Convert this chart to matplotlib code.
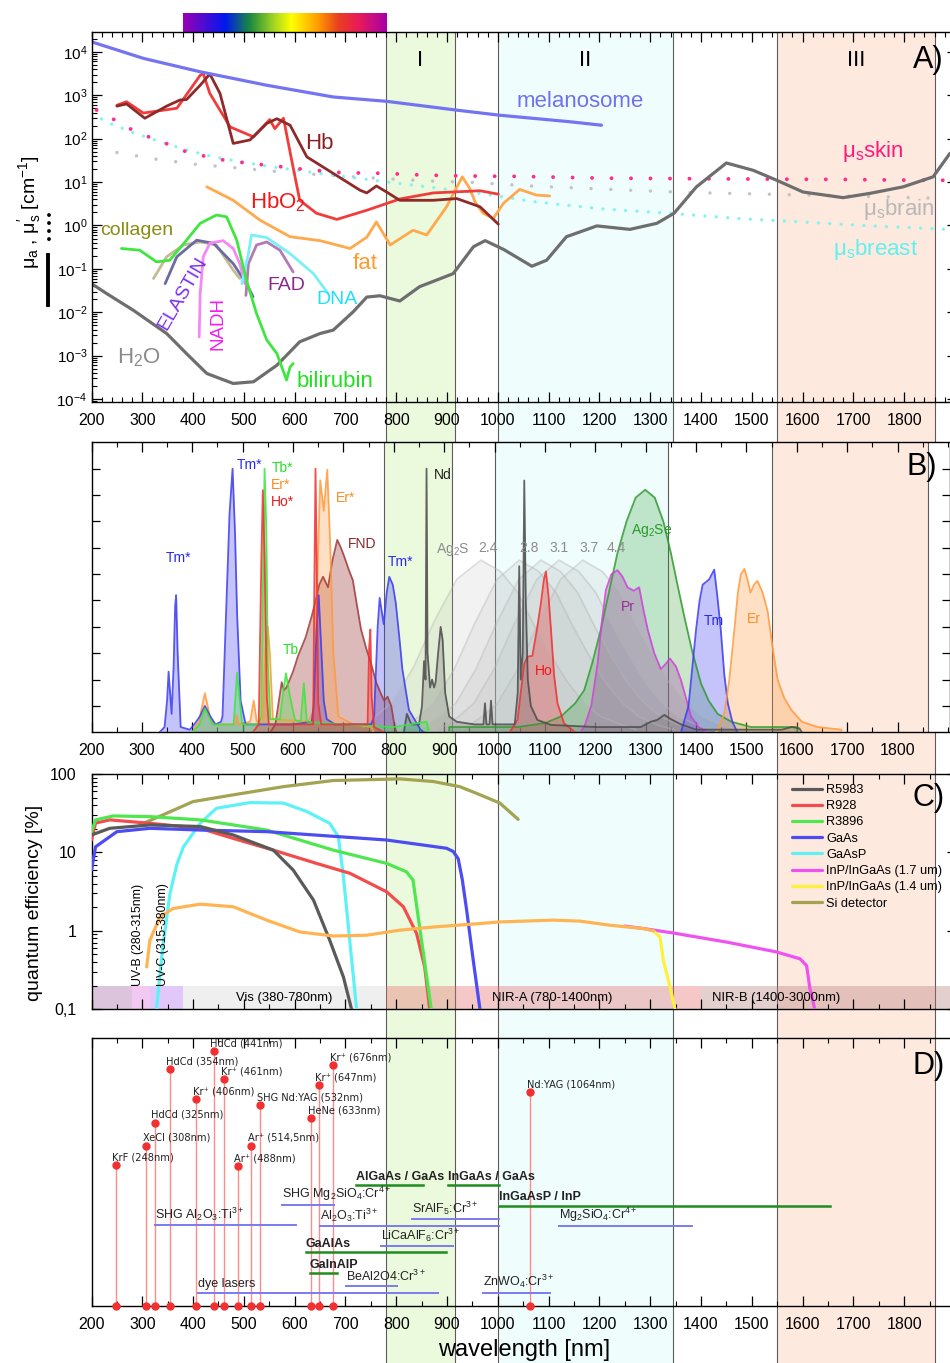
import numpy as np
import matplotlib
matplotlib.use("Agg")
import matplotlib.pyplot as plt
from matplotlib.colors import LinearSegmentedColormap
from matplotlib.lines import Line2D
from matplotlib.ticker import MultipleLocator, FixedLocator, LogLocator, NullFormatter

plt.rcParams['font.family'] = ['Liberation Sans', 'DejaVu Sans']
plt.rcParams['mathtext.fontset'] = 'custom'
plt.rcParams['mathtext.rm'] = 'Liberation Sans'
plt.rcParams['mathtext.it'] = 'Liberation Sans:italic'
plt.rcParams['mathtext.bf'] = 'Liberation Sans:bold'
plt.rcParams['axes.linewidth'] = 1.0

# ---------------- optical windows ----------------
windows = [(780, 915), (1000, 1345), (1550, 1860)]
window_names = ['I', 'II', 'III']

# visible rainbow (nm)
rainbow_nodes = [380, 462, 511, 560, 593, 646, 685, 725, 780]
rainbow_cols = ['#9a00b4', '#0018f0', '#1a8a40', '#a8d820', '#ffff00',
                '#ff9a00', '#e84020', '#e81a5a', '#a800a8']

# ---------------- A) absorption / scattering [cm^-1] ----------------
melanosome = [(200, 17000), (302, 7080), (414, 3470), (545, 1700), (676, 912), (781, 724),
              (917, 457), (1003, 347), (1142, 245), (1204, 204)]
hb = [(250, 562), (269, 631), (305, 295), (348, 562), (374, 776), (387, 794), (414, 1700),
      (433, 3090), (453, 1100), (479, 77.6), (512, 93.3), (545, 224), (565, 288), (591, 204),
      (624, 38), (676, 15.8), (729, 6.46), (742, 5.62), (761, 8.13), (781, 5.89), (807, 3.8),
      (873, 3.8), (919, 4.17), (965, 2.69), (1001, 1.07)]
hbo2 = [(250, 589), (269, 708), (302, 389), (368, 501), (414, 2880), (420, 3160), (433, 1100),
        (473, 186), (519, 110), (551, 275), (561, 170), (578, 295), (594, 32.4), (610, 3.8),
        (643, 1.91), (683, 1.38), (742, 2.24), (807, 4.07), (873, 5.62), (965, 6.31), (1001, 5.25)]
fat = [(427, 7.76), (479, 3.8), (532, 1.32), (591, 0.55), (650, 0.447), (709, 0.295), (742, 0.537),
       (761, 1.2), (788, 0.355), (833, 0.776), (860, 0.603), (899, 2.69), (930, 13.2), (945, 7.0),
       (955, 3.5), (971, 1.91), (991, 1.45), (1011, 3.24), (1043, 6.76), (1076, 5.01), (1102, 4.79)]
water = [(200, 0.0457), (230, 0.0269), (282, 0.0112), (348, 0.00324), (387, 0.00112),
         (427, 0.000389), (479, 0.000229), (519, 0.000251), (565, 0.000603), (610, 0.00209),
         (650, 0.00324), (676, 0.00389), (715, 0.0102), (742, 0.0224), (768, 0.024), (807, 0.0182),
         (846, 0.0389), (912, 0.0776), (952, 0.324), (975, 0.447), (1011, 0.282), (1067, 0.115),
         (1096, 0.158), (1135, 0.55), (1195, 0.977), (1260, 0.813), (1313, 1.12), (1347, 1.91),
         (1391, 7.76), (1450, 27.5), (1503, 18.6), (1549, 11.0), (1601, 5.89), (1680, 4.37),
         (1733, 5.5), (1798, 7.76), (1857, 13.2), (1890, 45.7)]
collagen = [(322, 0.060), (348, 0.19), (381, 0.355), (414, 0.417), (446, 0.355), (479, 0.093), (492, 0.060)]
elastin = [(345, 0.0457), (368, 0.19), (407, 0.457), (440, 0.389), (479, 0.132), (505, 0.0457), (518, 0.0229)]
nadh = [(412, 0.0027), (414, 0.027), (420, 0.19), (433, 0.389), (459, 0.447), (479, 0.295),
        (492, 0.132), (502, 0.0457)]
fad = [(504, 0.0245), (509, 0.132), (525, 0.355), (545, 0.417), (571, 0.269), (597, 0.085)]
dna = [(496, 0.0457), (509, 0.224), (515, 0.603), (545, 0.525), (591, 0.224), (637, 0.0776), (666, 0.0269)]
bilirubin = [(259, 0.295), (295, 0.269), (328, 0.145), (354, 0.158), (387, 0.457), (414, 1.12),
             (446, 1.74), (466, 1.58), (486, 0.457), (505, 0.055), (525, 0.0093), (545, 0.0023),
             (565, 0.00112), (584, 0.000275), (591, 0.00055), (597, 0.00066)]
mus_skin = [(210, 457), (246, 269), (279, 162), (315, 107), (351, 74.1), (381, 52.5), (414, 41.7),
            (453, 33.1), (505, 27.5), (545, 24.5), (584, 21.9), (620, 19.5), (660, 17.8), (699, 16.2),
            (738, 16.2), (779, 15.8), (853, 14.5), (932, 13.8), (1047, 13.5), (1204, 12.3),
            (1362, 12.0), (1516, 11.7), (1674, 11.5), (1828, 11.0), (1900, 11.0)]
mus_brain = [(250, 47.9), (325, 33.9), (404, 25.7), (482, 21.4), (558, 17.8), (637, 15.1), (715, 13.2),
             (794, 11.7), (873, 10.5), (952, 9.77), (1063, 8.13), (1221, 6.76), (1375, 5.75),
             (1532, 5.25), (1687, 4.79), (1884, 4.17)]
mus_breast = [(200, 380), (236, 224), (282, 138), (335, 85), (387, 55), (440, 38), (492, 29.5),
              (545, 23.4), (650, 15.8), (755, 11.0), (860, 7.76), (965, 5.5), (1076, 3.47),
              (1207, 2.40), (1339, 1.91), (1470, 1.45), (1602, 1.20), (1732, 0.98), (1890, 0.81)]

# ---------------- B) emission spectra (normalised) ----------------
tm_vis = [(335, 0), (345, 0.02), (350, 0.12), (353, 0.23), (356, 0.15), (359, 0.07), (363, 0.25),
          (366, 0.48), (368, 0.52), (371, 0.30), (377, 0.02), (395, 0.01), (404, 0.03), (415, 0.06),
          (425, 0.10), (436, 0.06), (446, 0.03), (457, 0.04), (460, 0.06), (466, 0.39), (474, 0.83),
          (480, 1.0), (485, 0.75), (489, 0.45), (496, 0.12), (506, 0.03), (600, 0.03), (637, 0.04),
          (641, 0.10), (647, 0.40), (651, 0.52), (656, 0.32), (661, 0.12), (667, 0.05), (683, 0.03),
          (755, 0.03), (761, 0.06), (768, 0.40), (772, 0.51), (780, 0.41), (786, 0.53), (791, 0.59),
          (798, 0.56), (804, 0.49), (811, 0.36), (817, 0.24), (830, 0.085), (853, 0.01), (860, 0)]
tb_vis = [(400, 0), (415, 0.03), (425, 0.09), (440, 0.03), (482, 0.03), (489, 0.226), (494, 0.13),
          (499, 0.03), (530, 0.03), (537, 0.06), (540, 0.51), (543.5, 1.0), (547, 0.77), (550, 0.26),
          (555, 0.05), (574, 0.05), (581, 0.16), (586, 0.224), (594, 0.135), (604, 0.047), (615, 0.04),
          (621.5, 0.186), (627.5, 0.04), (700, 0.03), (800, 0.02), (865, 0.04), (870, 0)]
er_vis = [(400, 0), (413, 0.04), (425, 0.148), (435, 0.06), (445, 0.03), (485, 0.03), (488, 0.066),
          (492, 0.03), (515, 0.04), (522, 0.12), (528, 0.04), (540, 0.05), (545, 0.3), (550, 0.40),
          (554, 0.3), (560, 0.05), (630, 0.04), (640, 0.08), (647, 0.5), (654, 0.956), (661, 0.84),
          (668, 0.996), (674, 0.7), (680, 0.3), (690, 0.06), (720, 0.03), (755, 0.02), (760, 0)]
ho_vis = [(520, 0), (532, 0.03), (535, 0.4), (537, 0.64), (540, 0.918), (543.6, 0.665), (548, 0.135),
          (552, 0.03), (640, 0.03), (642, 0.5), (644.6, 1.0), (647, 0.64), (650, 0.11), (656, 0.03),
          (748, 0.03), (751, 0.32), (753.5, 0.39), (756, 0.135), (761, 0.02), (780, 0)]
fnd = [(555, 0), (565, 0.03), (572, 0.12), (577.5, 0.19), (582, 0.16), (587, 0.17), (600, 0.23),
       (610, 0.29), (625, 0.36), (637, 0.44), (645, 0.50), (652, 0.56), (659.6, 0.59), (669.5, 0.55),
       (678, 0.65), (687.8, 0.73), (695, 0.70), (702, 0.665), (710, 0.62), (718.7, 0.577), (727, 0.48),
       (735, 0.39), (745, 0.32), (755, 0.26), (765, 0.19), (774, 0.148), (781, 0.12), (787.6, 0.135),
       (795, 0.10), (800.7, 0.034), (805, 0)]
nd = [(820, 0), (826, 0.07), (835, 0.03), (850, 0.03), (856, 0.10), (860, 0.27), (863, 0.20),
      (865, 1.0), (867, 0.30), (872, 0.17), (876, 0.20), (880, 0.17), (883, 0.19), (888, 0.30),
      (893, 0.40), (897, 0.35), (902, 0.15), (910, 0.06), (925, 0.04), (960, 0.03), (978, 0.03),
      (981, 0.11), (984, 0.03), (990, 0.03), (993, 0.12), (996, 0.03), (1040, 0.03), (1046, 0.15),
      (1049, 0.63), (1052, 0.2), (1056, 0.3), (1059, 0.955), (1062, 0.5), (1066, 0.2), (1072, 0.1),
      (1085, 0.047), (1112, 0.028), (1200, 0.02), (1290, 0.02), (1310, 0.04), (1323, 0.047),
      (1337, 0.066), (1350, 0.05), (1370, 0.03), (1400, 0.01), (1570, 0.01), (1590, 0.02),
      (1605, 0.015), (1610, 0)]
ag2s_24 = [(740, 0.02), (770, 0.07), (800, 0.12), (840, 0.25), (880, 0.42), (925, 0.58), (973, 0.653),
           (1012, 0.61), (1046, 0.53), (1080, 0.40), (1112, 0.29), (1145, 0.19), (1178, 0.11),
           (1210, 0.06), (1244, 0.034), (1280, 0.01)]
ag2s_28 = [(810, 0.01), (850, 0.06), (880, 0.11), (920, 0.24), (960, 0.41), (1005, 0.58), (1049, 0.653),
           (1088, 0.61), (1122, 0.53), (1156, 0.40), (1188, 0.29), (1220, 0.19), (1254, 0.11),
           (1286, 0.06), (1320, 0.03), (1356, 0.01)]
ag2s_31 = [(853, 0.01), (893, 0.06), (923, 0.11), (963, 0.24), (1003, 0.41), (1048, 0.58), (1092, 0.653),
           (1131, 0.61), (1165, 0.53), (1199, 0.40), (1231, 0.29), (1263, 0.19), (1297, 0.11),
           (1329, 0.06), (1363, 0.03), (1399, 0.01)]
ag2s_37 = [(889, 0.01), (929, 0.06), (959, 0.11), (999, 0.24), (1039, 0.41), (1084, 0.58), (1128, 0.653),
           (1167, 0.61), (1201, 0.53), (1235, 0.40), (1267, 0.29), (1299, 0.19), (1333, 0.11),
           (1365, 0.06), (1399, 0.03), (1435, 0.01)]
ag2s_44 = [(936, 0.01), (976, 0.06), (1006, 0.11), (1046, 0.24), (1086, 0.41), (1131, 0.58), (1175, 0.653),
           (1214, 0.61), (1248, 0.53), (1282, 0.40), (1314, 0.29), (1346, 0.19), (1380, 0.11),
           (1412, 0.06), (1446, 0.03), (1482, 0.01)]
ho_nir = [(1030, 0), (1045.6, 0.047), (1052, 0.15), (1059, 0.26), (1065.5, 0.287), (1075, 0.29),
          (1085, 0.40), (1092, 0.49), (1098, 0.58), (1102, 0.61), (1107, 0.52), (1112, 0.39),
          (1118, 0.22), (1125, 0.11), (1138, 0.034), (1160, 0)]
ag2se = [(910, 0), (910, 0.02), (1000, 0.02), (1046, 0.02), (1100, 0.035), (1132, 0.06), (1160, 0.11),
         (1178, 0.16), (1195, 0.27), (1211, 0.39), (1228, 0.54), (1244, 0.68), (1262, 0.80), (1280, 0.89),
         (1299, 0.92), (1318, 0.89), (1335, 0.80), (1350, 0.68), (1363, 0.56), (1376.5, 0.44),
         (1392, 0.31), (1409.6, 0.186), (1425, 0.12), (1442.7, 0.07), (1470, 0.04), (1509, 0.02),
         (1601, 0.02), (1601, 0)]
pr = [(1170, 0), (1178, 0.02), (1192, 0.1), (1204.5, 0.26), (1213, 0.42), (1221, 0.54), (1232, 0.6),
      (1244, 0.615), (1254, 0.59), (1264, 0.55), (1276, 0.537), (1287, 0.55), (1295, 0.47), (1304, 0.39),
      (1317, 0.3), (1330, 0.24), (1340, 0.26), (1348, 0.28), (1360, 0.25), (1370, 0.198), (1380, 0.13),
      (1390, 0.06), (1405, 0.02), (1423, 0)]
tm_nir = [(1370, 0), (1385, 0.1), (1400, 0.39), (1407, 0.5), (1413, 0.56), (1426, 0.58), (1436, 0.617),
          (1442, 0.52), (1449, 0.39), (1456, 0.22), (1463, 0.11), (1472, 0.04), (1482, 0)]
er_nir = [(1440, 0), (1456, 0.07), (1466, 0.2), (1476, 0.39), (1483, 0.53), (1489, 0.60), (1496, 0.62),
          (1502, 0.58), (1508, 0.53), (1515, 0.56), (1522, 0.574), (1532, 0.53), (1542, 0.46),
          (1552, 0.32), (1562, 0.198), (1575, 0.13), (1589, 0.085), (1610, 0.04), (1641, 0.02),
          (1688, 0.01), (1690, 0)]

# ---------------- C) detector quantum efficiency [%] ----------------
qe_r5983 = [(200, 16.7), (236, 20.3), (315, 22.4), (414, 21.4), (479, 16.7), (558, 10.7), (597, 5.97),
            (637, 2.47), (669, 0.76), (696, 0.258), (712, 0.1)]
qe_r928 = [(200, 14.4), (208, 23.7), (236, 26), (315, 23.5), (414, 20.3), (479, 15.1), (558, 10.7),
           (643, 7.25), (709, 5.41), (781, 3.15), (814, 2.03), (840, 0.93), (856, 0.347), (866, 0.1)]
qe_r3896 = [(200, 18.4), (208, 26), (243, 29.2), (315, 28.6), (414, 26), (545, 19.3), (676, 10.7),
            (781, 7.25), (820, 5.67), (833, 4.44), (846, 1.12), (860, 0.258), (869, 0.1)]
qe_gaas = [(200, 5.97), (208, 11.8), (250, 18.4), (315, 20.3), (414, 19.3), (545, 18.4), (781, 14.4),
           (899, 11.3), (912, 10.3), (922, 8.3), (930, 4.5), (938.6, 1.84), (951.6, 0.42), (964.8, 0.1)]
qe_gaasp = [(328, 0.1), (340, 0.6), (354.5, 3.0), (368, 7), (381, 11.8), (414, 23.5), (446, 36.6),
            (512, 43.2), (578, 42.6), (624, 33.2), (669, 23.5), (686, 15.9), (696, 4.9), (709, 0.69),
            (722, 0.1)]
qe_inp17 = [(1250, 1.15), (1287, 1.07), (1345, 0.94), (1450, 0.72), (1548, 0.54), (1595, 0.44),
            (1608, 0.36), (1614, 0.19), (1624, 0.1)]
qe_inp14 = [(1306, 1.0), (1319, 0.84), (1326, 0.42), (1339, 0.19), (1349, 0.1)]
qe_si = [(295, 22.4), (348, 31.6), (400, 44.5), (479, 54.2), (578, 69), (676, 82.6), (807, 86.6),
         (873, 80.2), (925, 69), (960, 56), (1004, 42.6), (1040, 26.4)]
qe_orange = [(308.6, 0.347), (315, 0.76), (335, 1.51), (361, 1.93), (414, 2.19), (479, 2.03),
             (545, 1.37), (610, 0.97), (676, 0.86), (742, 0.88), (807, 1.02), (873, 1.12), (965, 1.24),
             (1004, 1.30), (1109, 1.37), (1162, 1.33), (1221, 1.18), (1287, 1.07), (1306, 1.0)]

spectral_regions = [(200, 280, ''), (280, 315, ''), (315, 380, ''), (380, 780, 'Vis (380-780nm)'),
                    (780, 1400, 'NIR-A (780-1400nm)'), (1400, 3000, 'NIR-B (1400-3000nm)')]

# ---------------- D) laser sources ----------------
laser_wl = [248, 308, 325, 354, 406, 441, 461, 488, 514.5, 532, 633, 647, 676, 1064]
laser_h = [0.527, 0.599, 0.685, 0.885, 0.773, 0.953, 0.849, 0.524, 0.599, 0.751, 0.701, 0.824, 0.900, 0.800]
laser_names = ['KrF (248nm)', 'XeCl (308nm)', 'HdCd (325nm)', 'HdCd (354nm)', 'Kr⁺ (406nm)',
               'HdCd (441nm)', 'Kr⁺ (461nm)', 'Ar⁺ (488nm)', 'Ar⁺ (514,5nm)',
               'SHG Nd:YAG (532nm)', 'HeNe (633nm)', 'Kr⁺ (647nm)', 'Kr⁺ (676nm)',
               'Nd:YAG (1064nm)']

tune_names = ['AlGaAs / GaAs', 'InGaAs / GaAs', 'InGaAsP / InP', 'SHG Mg$_2$SiO$_4$:Cr$^{4+}$',
              'SHG Al$_2$O$_3$:Ti$^{3+}$', 'Al$_2$O$_3$:Ti$^{3+}$', 'SrAlF$_5$:Cr$^{3+}$',
              'LiCaAlF$_6$:Cr$^{3+}$', 'GaAlAs', 'GaInAlP', 'BeAl2O4:Cr$^{3+}$', 'dye lasers',
              'Mg$_2$SiO$_4$:Cr$^{4+}$', 'ZnWO$_4$:Cr$^{3+}$']
tune_lo = [721, 901, 1003, 576, 326, 650, 831, 770, 622, 630, 701, 410, 1121, 971]
tune_hi = [852, 1003, 1654, 677, 602, 1003, 1003, 912, 897, 683, 802, 883, 1383, 1103]
tune_level = [0.451, 0.451, 0.375, 0.377, 0.303, 0.300, 0.325, 0.225, 0.200, 0.123, 0.076, 0.050, 0.300, 0.050]
tune_diode = [True, True, True, False, False, False, False, False, True, True, False, False, False, False]

# ================= figure =================
W, H = 950, 1363
XMIN, XMAX = 200, 1904
fig = plt.figure(figsize=(W / 100, H / 100), dpi=100)


def axes_px(left, top, right, bottom, **kw):
    return fig.add_axes([left / W, 1 - bottom / H, (right - left) / W, (bottom - top) / H], **kw)


band_fill = ['#ebf9dd', '#effdfd', '#fde9de']


def draw_windows(ax):
    for (lo, hi), c in zip(windows, band_fill):
        ax.axvspan(lo, hi, color=c, lw=0, zorder=0)
        for x in (lo, hi):
            ax.axvline(x, color='#5c5c5c', lw=0.8, zorder=0.5)


def style_x(ax, minor, labels=True):
    ax.set_xlim(XMIN, XMAX)
    ax.xaxis.set_major_locator(FixedLocator(np.arange(200, 1801, 100)))
    ax.xaxis.set_minor_locator(MultipleLocator(minor))
    ax.tick_params(which='both', direction='in', top=True, right=True)
    ax.tick_params(which='major', length=7, width=0.9)
    ax.tick_params(which='minor', length=3.5, width=0.8)
    ax.tick_params(axis='x', labelsize=11.5, pad=8, labelbottom=labels)


def xy(pts):
    a = np.array(pts, dtype=float)
    return a[:, 0], a[:, 1]


# background window bands running through all panels
bg = axes_px(91.5, 32.3, 957, 1363)
bg.set_xlim(XMIN, XMAX)
bg.set_ylim(0, 1)
bg.axis('off')
draw_windows(bg)

# rainbow bar
axr = axes_px(91.5, 13.3, 957, 33.3)
pos = [(n - rainbow_nodes[0]) / (rainbow_nodes[-1] - rainbow_nodes[0]) for n in rainbow_nodes]
cmap = LinearSegmentedColormap.from_list('vis', list(zip(pos, rainbow_cols)))
axr.imshow(np.linspace(0, 1, 256)[None, :], extent=(380, 780, 0, 1), aspect='auto', cmap=cmap)
axr.set_xlim(XMIN, XMAX)
axr.set_ylim(0, 1)
axr.axis('off')

# ---------------- panel A ----------------
axA = axes_px(91.5, 32.3, 957, 401.7)
axA.patch.set_alpha(0)
axA.set_yscale('log')
axA.set_ylim(10 ** -4.06, 10 ** 4.45)
style_x(axA, 20)
axA.yaxis.set_major_locator(LogLocator(base=10, numticks=20))
axA.yaxis.set_minor_locator(LogLocator(base=10, subs=np.arange(2, 10), numticks=20))
axA.yaxis.set_minor_formatter(NullFormatter())
axA.tick_params(axis='y', labelsize=11, pad=3)


def dotted(ax, pts, color, lw, gap):
    x, y = xy(pts)
    ax.plot(x, y, color=color, lw=lw, linestyle=(0, (0.01, gap)), dash_capstyle='round')


dotted(axA, mus_brain, '#c4c4c4', 2.5, 5.7)
dotted(axA, mus_breast, '#86f2f2', 2.4, 3.4)
dotted(axA, mus_skin, '#ff2d8c', 2.8, 5.0)

curvesA = [(water, '#6e6e6e', 2.3), (collagen, '#c4bb92', 2.0), (elastin, '#6b6ba4', 2.0),
           (nadh, '#f488f4', 2.0), (fad, '#b47ab4', 2.0), (dna, '#78f0fa', 2.0),
           (bilirubin, '#40e640', 2.0), (fat, '#ffa84c', 2.0), (hbo2, '#f23c3c', 2.0),
           (hb, '#8e2a2a', 2.0), (melanosome, '#7474f2', 2.3)]
for pts, c, lw in curvesA:
    x, y = xy(pts)
    axA.plot(x, y, color=c, lw=lw, solid_capstyle='round')

labA = dict(va='baseline', ha='left', fontsize=16)
axA.text(620, 57.5, 'Hb', color='#8b2020', **labA)
axA.text(512, 2.45, 'HbO$_\\mathregular{2}$', color='#f01818', **labA)
axA.text(715, 0.098, 'fat', color='#ff9a30', **labA)
axA.text(217, 0.60, 'collagen', color='#8b8b10', va='baseline', ha='left', fontsize=14)
axA.text(547, 0.032, 'FAD', color='#8b2a8b', va='baseline', ha='left', fontsize=14)
axA.text(642, 0.0158, 'DNA', color='#20e0f8', va='baseline', ha='left', fontsize=14)
axA.text(250, 6.6e-4, 'H$_\\mathregular{2}$O', color='#8a8a8a', **labA)
axA.text(604, 1.9e-4, 'bilirubin', color='#20e020', **labA)
axA.text(1037, 525, 'melanosome', color='#7070f0', **labA)
axA.text(1677, 38, 'μ$_\\mathregular{s}$skin', color='#ff1a80', **labA)
axA.text(1718, 1.74, 'μ$_\\mathregular{s}$brain', color='#b8b8b8', **labA)
axA.text(1659, 0.209, 'μ$_\\mathregular{s}$breast', color='#60f0f0', **labA)
axA.text(380, 0.0275, 'ELASTIN', color='#7a30f0', rotation=60, ha='center', va='center', fontsize=14)
axA.text(449, 0.0055, 'NADH', color='#f020f0', rotation=90, ha='center', va='center', fontsize=13.5)
for (lo, hi), name in zip(windows, window_names):
    axA.text((lo + hi) / 2, 6450, name, ha='center', va='center', fontsize=16)
axA.text(1817, 6450, 'A)', ha='left', va='center', fontsize=22)

fig.text(30 / W, 1 - 212 / H, 'μ$_{\\mathregular{a}}$ , μ$_{\\mathregular{s}}^{\\prime}$ [cm$^{\\mathregular{-1}}$]',
         rotation=90, ha='center', va='center', fontsize=14)
fig.add_artist(Line2D([47.5 / W] * 2, [1 - 255 / H, 1 - 305 / H], color='k', lw=2.8))
fig.add_artist(Line2D([49 / W] * 2, [1 - 215 / H, 1 - 247 / H], color='k', lw=2.8,
                      linestyle=(0, (0.01, 2.05)), dash_capstyle='round'))

# ---------------- panel B ----------------
axB = axes_px(91.5, 442.3, 950, 732.3)
draw_windows(axB)
style_x(axB, 50)
axB.set_ylim(0, 1.1)
axB.yaxis.set_major_locator(FixedLocator(np.arange(1, 11) / 10))
axB.tick_params(axis='y', labelleft=False, length=6)


def spectrum(pts, color, fa=0.3, la=0.85, lw=1.3, lc=None):
    x, y = xy(pts)
    axB.fill_between(x, 0, y, color=color, alpha=fa, lw=0, zorder=2)
    axB.plot(x, y, color=lc or color, alpha=la, lw=lw, zorder=3)


for s in (ag2s_24, ag2s_28, ag2s_31, ag2s_37, ag2s_44):
    spectrum(s, '#b4b4b4', fa=0.16, la=0.45, lw=1.2)
spectrum(ag2se, '#2f9a2f', fa=0.25)
spectrum(pr, '#a040a8', fa=0.3, lc='#d040d8')
spectrum(tm_nir, '#3c3cf0', fa=0.3)
spectrum(er_nir, '#ff9a3c', fa=0.3)
spectrum(ho_nir, '#f03030', fa=0.3)
spectrum(nd, '#707070', fa=0.3, lc='#4a4a4a')
spectrum(fnd, '#a03a3a', fa=0.35)
spectrum(er_vis, '#ff9a3c', fa=0.3)
spectrum(tm_vis, '#3c3cf0', fa=0.3)
spectrum(tb_vis, '#3ce63c', fa=0.3)
spectrum(ho_vis, '#f03030', fa=0.3)

labB = dict(va='baseline', ha='left', fontsize=10, zorder=5)
axB.text(348, 0.646, 'Tm*', color='#2a2af0', **labB)
axB.text(488, 1.0, 'Tm*', color='#2a2af0', **labB)
axB.text(557, 0.987, 'Tb*', color='#28e028', **labB)
axB.text(557, 0.924, 'Er*', color='#ff8c20', **labB)
axB.text(557, 0.857, 'Ho*', color='#f01818', **labB)
axB.text(686, 0.873, 'Er*', color='#ff8c20', **labB)
axB.text(709, 0.70, 'FND', color='#8b2a2a', **labB)
axB.text(788, 0.631, 'Tm*', color='#2a2af0', **labB)
axB.text(879, 0.962, 'Nd', color='#202020', **labB)
axB.text(579, 0.297, 'Tb', color='#28e028', **labB)
axB.text(884, 0.682, 'Ag$_\\mathregular{2}$S', color='#8c8c8c', **labB)
for lab, x0 in zip(['2.4', '2.8', '3.1', '3.7', '4.4'], [967, 1050, 1109, 1169, 1222]):
    axB.text(x0, 0.682, lab, color='#8c8c8c', **labB)
axB.text(1270, 0.754, 'Ag$_\\mathregular{2}$Se', color='#2a9a2a', **labB)
axB.text(1251, 0.46, 'Pr', color='#9a2a9a', **labB)
axB.text(1415, 0.406, 'Tm', color='#2a2af0', **labB)
axB.text(1501, 0.413, 'Er', color='#ff8c20', **labB)
axB.text(1081, 0.217, 'Ho', color='#f01818', **labB)
axB.text(1818, 1.006, 'B)', ha='left', va='center', fontsize=22)

# ---------------- panel C ----------------
axC = axes_px(91.5, 774, 957, 1009.3)
axC.patch.set_alpha(0)
axC.set_yscale('log')
axC.set_ylim(0.1, 100)
style_x(axC, 50, labels=False)
axC.yaxis.set_major_locator(FixedLocator([0.1, 1, 10, 100]))
axC.set_yticklabels(['0,1', '1', '10', '100'])
axC.yaxis.set_minor_locator(LogLocator(base=10, subs=np.arange(2, 10), numticks=20))
axC.yaxis.set_minor_formatter(NullFormatter())
axC.tick_params(axis='y', labelsize=11.5, pad=11)

region_cols = [('#dcc4dc', 1), ('#f2c8f2', 1), ('#e2c8fa', 1), ('#efefef', 1),
               ('#e66e6e', 0.38), ('#b47878', 0.35)]
for (lo, hi, name), (c, a) in zip(spectral_regions, region_cols):
    axC.fill_between([lo, hi], 0.1, 0.2, color=c, alpha=a, lw=0, zorder=1)
axC.text(580, 0.141, spectral_regions[3][2], ha='center', va='center', fontsize=9.4, zorder=6)
axC.text(989, 0.141, spectral_regions[4][2], ha='left', va='center', fontsize=9.4, zorder=6)
axC.text(1422, 0.141, spectral_regions[5][2], ha='left', va='center', fontsize=9.4, zorder=6)
axC.text(292, 0.2, 'UV-B (280-315nm)', rotation=90, ha='center', va='bottom', fontsize=8.8, zorder=6)
axC.text(341, 0.2, 'UV-C (315-380nm)', rotation=90, ha='center', va='bottom', fontsize=8.8, zorder=6)

qe_curves = [(qe_si, '#a3a352', 'Si detector'), (qe_gaasp, '#5ef2f6', 'GaAsP'),
             (qe_r928, '#f24c4c', 'R928'), (qe_r3896, '#50e650', 'R3896'),
             (qe_gaas, '#4c4cf2', 'GaAs'), (qe_r5983, '#5a5a5a', 'R5983'),
             (qe_inp17, '#f052f0', 'InP/InGaAs (1.7 um)'), (qe_inp14, '#fff040', 'InP/InGaAs (1.4 um)'),
             (qe_orange, '#ffb454', None)]
handles = {}
for pts, c, name in qe_curves:
    x, y = xy(pts)
    line, = axC.plot(x, y, color=c, lw=2.3, zorder=4, solid_capstyle='round')
    if name:
        handles[name] = line
order = ['R5983', 'R928', 'R3896', 'GaAs', 'GaAsP', 'InP/InGaAs (1.7 um)', 'InP/InGaAs (1.4 um)', 'Si detector']
axC.legend([handles[k] for k in order], order, loc='upper left',
           bbox_to_anchor=(791.7 / W, 1 - 784 / H), bbox_transform=fig.transFigure,
           frameon=False, fontsize=9.2, handlelength=2.4, handletextpad=0.3,
           labelspacing=0.33, borderpad=0, borderaxespad=0)
axC.text(1817, 49.4, 'C)', ha='left', va='center', fontsize=22)
fig.text(35 / W, 1 - 903 / H, 'quantum efficiency [%]', rotation=90, ha='center', va='center', fontsize=14)

# ---------------- panel D ----------------
axD = axes_px(91.5, 1038.3, 957, 1306)
axD.patch.set_alpha(0)
axD.set_ylim(0, 1)
style_x(axD, 50)
axD.set_yticks([])

for wl, h, name in zip(laser_wl, laser_h, laser_names):
    axD.plot([wl, wl], [0, h], color='#ff8a8a', lw=1.0, zorder=2)
    axD.plot([wl, wl], [0, h], 'o', color='#f23030', ms=5, zorder=3, clip_on=False)
    axD.text(wl - 7, h + 0.010, name, ha='left', va='bottom', fontsize=7.1,
             family=['DejaVu Sans'], color='#222222', zorder=5)

for name, lo, hi, lev, diode in zip(tune_names, tune_lo, tune_hi, tune_level, tune_diode):
    col = '#1e8c1e' if diode else '#7b7bf0'
    axD.plot([lo, hi], [lev, lev], color=col, lw=1.8 if diode else 1.4, zorder=3)
    axD.text(lo, lev + 0.008, name, ha='left', va='bottom', fontsize=9,
             fontweight='bold' if diode else 'normal', color='#222222', zorder=5)
axD.text(1817, 0.897, 'D)', ha='left', va='center', fontsize=22)
fig.text(524 / W, 1 - 1350 / H, 'wavelength [nm]', ha='center', va='center', fontsize=17)

fig.savefig('out.png', dpi=100)
